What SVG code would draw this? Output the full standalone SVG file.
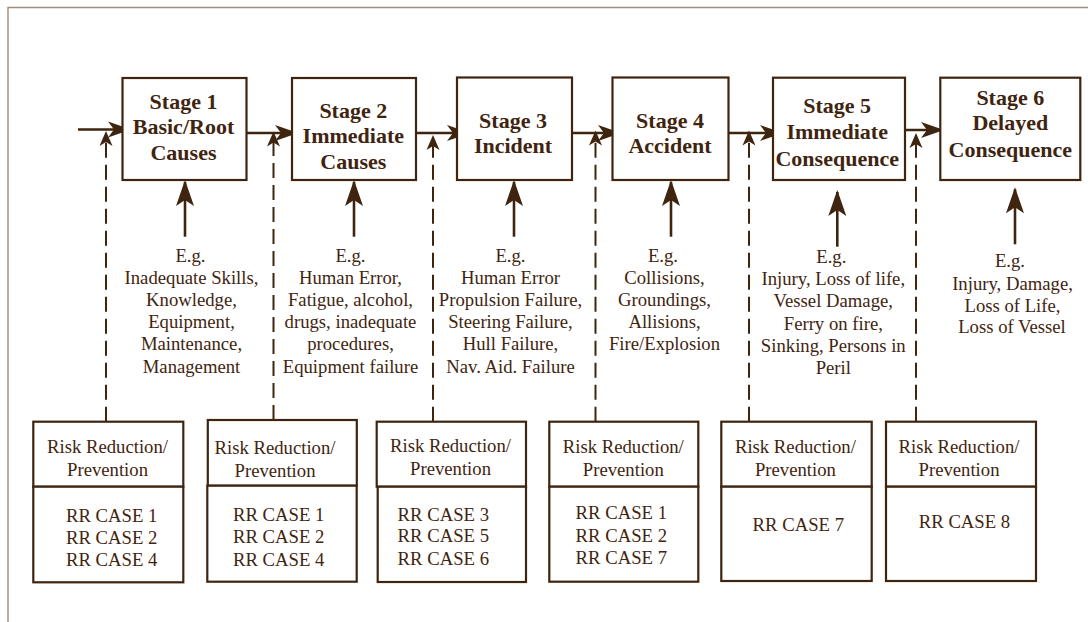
<svg xmlns="http://www.w3.org/2000/svg" width="1088" height="622" viewBox="0 0 1088 622">
<style>
.bx{fill:#fff;stroke:#3f250f;stroke-width:2.2}
.st{font-family:"Liberation Serif","Times New Roman",serif;font-weight:bold;font-size:22px;fill:#3f250f;text-anchor:middle}
.tx{font-family:"Liberation Serif","Times New Roman",serif;font-size:18.7px;fill:#3f250f;text-anchor:middle}
.ln{fill:none;stroke:#3f250f;stroke-width:2.6}
.dl{fill:none;stroke:#3f250f;stroke-width:2;stroke-dasharray:15 7}
.frame{fill:none;stroke:#9e8e7e;stroke-width:1.4}
</style>
<defs>
<marker id="ah" markerUnits="userSpaceOnUse" viewBox="-25 -10 30 20" refX="0" refY="0" markerWidth="30" markerHeight="20" orient="auto">
<path d="M2,0 L-21,-8 L-15,0 L-21,8 Z" fill="#3f250f" stroke="none"/>
</marker>
<marker id="au" markerUnits="userSpaceOnUse" viewBox="-28 -11 32 22" refX="0" refY="0" markerWidth="32" markerHeight="22" orient="auto">
<path d="M2,0 L-24,-9 L-18,0 L-24,9 Z" fill="#3f250f" stroke="none"/>
</marker>
<marker id="ad" markerUnits="userSpaceOnUse" viewBox="-18 -8 22 16" refX="0" refY="0" markerWidth="22" markerHeight="16" orient="auto">
<path d="M2,0 L-13,-6.5 L-9,0 L-13,6.5 Z" fill="#3f250f" stroke="none"/>
</marker>
</defs>
<rect width="1088" height="622" fill="#fff"/>
<path class="frame" d="M8,622 V7.5 H1088"/>

<g id="connectors">
<line class="ln" x1="78" y1="129.5" x2="129" y2="129.5" marker-end="url(#ah)"/>
<line class="ln" x1="246.5" y1="133" x2="296" y2="133" marker-end="url(#ah)"/>
<line class="ln" x1="416" y1="133" x2="468" y2="133" marker-end="url(#ah)"/>
<line class="ln" x1="572" y1="133" x2="619" y2="133" marker-end="url(#ah)"/>
<line class="ln" x1="728.5" y1="133" x2="781" y2="133" marker-end="url(#ah)"/>
<line class="ln" x1="900" y1="130" x2="942" y2="130" marker-end="url(#ah)"/>

<line class="ln" x1="185" y1="236.7" x2="185" y2="182" marker-end="url(#au)"/>
<line class="ln" x1="354" y1="236.7" x2="354" y2="182" marker-end="url(#au)"/>
<line class="ln" x1="514" y1="236.7" x2="514" y2="182" marker-end="url(#au)"/>
<line class="ln" x1="671" y1="236.7" x2="671" y2="182" marker-end="url(#au)"/>
<line class="ln" x1="837.3" y1="246.7" x2="837.3" y2="192" marker-end="url(#au)"/>
<line class="ln" x1="1015" y1="244.3" x2="1015" y2="189.3" marker-end="url(#au)"/>

<line class="dl" x1="106" y1="421.7" x2="106" y2="133" marker-end="url(#ad)"/>
<line class="dl" x1="273.5" y1="420" x2="273.5" y2="133.5" marker-end="url(#ad)"/>
<line class="dl" x1="433" y1="421.7" x2="433" y2="137" marker-end="url(#ad)"/>
<line class="dl" x1="595.5" y1="421.7" x2="595.5" y2="132.5" marker-end="url(#ad)"/>
<line class="dl" x1="749" y1="421.7" x2="749" y2="132.5" marker-end="url(#ad)"/>
<line class="dl" x1="916" y1="421.7" x2="916" y2="135" marker-end="url(#ad)"/>
</g>

<g id="stage1">
<rect class="bx" x="122.5" y="78" width="124" height="102"/>
<text class="st" x="183.5" y="108.5">Stage 1</text>
<text class="st" x="183.5" y="134">Basic/Root</text>
<text class="st" x="183.5" y="159.5">Causes</text>
</g>
<g id="stage2">
<rect class="bx" x="292" y="78" width="124" height="102"/>
<text class="st" x="353.3" y="117.5">Stage 2</text>
<text class="st" x="353.3" y="143">Immediate</text>
<text class="st" x="353.3" y="169">Causes</text>
</g>
<g id="stage3">
<rect class="bx" x="457" y="77.5" width="115" height="102.5"/>
<text class="st" x="513" y="127.7">Stage 3</text>
<text class="st" x="513" y="152.7">Incident</text>
</g>
<g id="stage4">
<rect class="bx" x="612.5" y="77.5" width="116" height="102.5"/>
<text class="st" x="670" y="127.7">Stage 4</text>
<text class="st" x="670" y="152.7">Accident</text>
</g>
<g id="stage5">
<rect class="bx" x="773" y="77.7" width="132" height="102.3"/>
<text class="st" x="837.2" y="113.3">Stage 5</text>
<text class="st" x="837.2" y="139.3">Immediate</text>
<text class="st" x="837.2" y="165.7">Consequence</text>
</g>
<g id="stage6">
<rect class="bx" x="940.3" y="77.7" width="140" height="102.3"/>
<text class="st" x="1010.3" y="105">Stage 6</text>
<text class="st" x="1010.3" y="130">Delayed</text>
<text class="st" x="1010.3" y="156.7">Consequence</text>
</g>

<g id="examples1">
<text class="tx" x="190.5" y="261.5">E.g.</text>
<text class="tx" x="191.5" y="283.7">Inadequate Skills,</text>
<text class="tx" x="191.5" y="305.9">Knowledge,</text>
<text class="tx" x="191.5" y="328.1">Equipment,</text>
<text class="tx" x="191.5" y="350.3">Maintenance,</text>
<text class="tx" x="191.5" y="372.5">Management</text>
</g>
<g id="examples2">
<text class="tx" x="350.5" y="261.5">E.g.</text>
<text class="tx" x="350.5" y="283.7">Human Error,</text>
<text class="tx" x="350.5" y="305.9">Fatigue, alcohol,</text>
<text class="tx" x="350.5" y="328.1">drugs, inadequate</text>
<text class="tx" x="350.5" y="350.3">procedures,</text>
<text class="tx" x="350.5" y="372.5">Equipment failure</text>
</g>
<g id="examples3">
<text class="tx" x="510.5" y="261.5">E.g.</text>
<text class="tx" x="510.5" y="283.7">Human Error</text>
<text class="tx" x="510.5" y="305.9">Propulsion Failure,</text>
<text class="tx" x="510.5" y="328.1">Steering Failure,</text>
<text class="tx" x="510.5" y="350.3">Hull Failure,</text>
<text class="tx" x="510.5" y="372.5">Nav. Aid. Failure</text>
</g>
<g id="examples4">
<text class="tx" x="663" y="261.5">E.g.</text>
<text class="tx" x="664.5" y="283.7">Collisions,</text>
<text class="tx" x="664.5" y="305.9">Groundings,</text>
<text class="tx" x="664.5" y="328.1">Allisions,</text>
<text class="tx" x="664.5" y="350.3">Fire/Explosion</text>
</g>
<g id="examples5">
<text class="tx" x="831.3" y="262.7">E.g.</text>
<text class="tx" x="833.3" y="285">Injury, Loss of life,</text>
<text class="tx" x="833.3" y="307.3">Vessel Damage,</text>
<text class="tx" x="833.3" y="329.6">Ferry on fire,</text>
<text class="tx" x="833.3" y="351.9">Sinking, Persons in</text>
<text class="tx" x="833.3" y="374.2">Peril</text>
</g>
<g id="examples6">
<text class="tx" x="1010" y="267.3">E.g.</text>
<text class="tx" x="1012.5" y="289.8">Injury, Damage,</text>
<text class="tx" x="1012.5" y="311.7">Loss of Life,</text>
<text class="tx" x="1012" y="333.3">Loss of Vessel</text>
</g>

<g id="rr1">
<rect class="bx" x="33.3" y="421.7" width="150" height="65"/>
<rect class="bx" x="33.3" y="486.7" width="150" height="95.6"/>
<text class="tx" x="107.5" y="452.7">Risk Reduction/</text>
<text class="tx" x="107.5" y="476">Prevention</text>
<text class="tx" x="111.7" y="521.7">RR CASE 1</text>
<text class="tx" x="111.7" y="543.8">RR CASE 2</text>
<text class="tx" x="111.7" y="565.7">RR CASE 4</text>
</g>
<g id="rr2">
<rect class="bx" x="207.8" y="420" width="149" height="65.7"/>
<rect class="bx" x="207.3" y="485.7" width="149.4" height="96"/>
<text class="tx" x="275" y="454">Risk Reduction/</text>
<text class="tx" x="275" y="477.3">Prevention</text>
<text class="tx" x="278.7" y="520.7">RR CASE 1</text>
<text class="tx" x="278.7" y="543">RR CASE 2</text>
<text class="tx" x="278.7" y="565.7">RR CASE 4</text>
</g>
<g id="rr3">
<rect class="bx" x="376.7" y="421.7" width="149.3" height="65"/>
<rect class="bx" x="377.7" y="486.7" width="148.3" height="95.3"/>
<text class="tx" x="450.5" y="451.7">Risk Reduction/</text>
<text class="tx" x="450.5" y="475">Prevention</text>
<text class="tx" x="443.3" y="520.7">RR CASE 3</text>
<text class="tx" x="443.3" y="541.7">RR CASE 5</text>
<text class="tx" x="443.3" y="565">RR CASE 6</text>
</g>
<g id="rr4">
<rect class="bx" x="549.3" y="421.7" width="149" height="65"/>
<rect class="bx" x="549.3" y="486.7" width="149" height="95"/>
<text class="tx" x="623.3" y="452.7">Risk Reduction/</text>
<text class="tx" x="623.3" y="476">Prevention</text>
<text class="tx" x="621.3" y="518.7">RR CASE 1</text>
<text class="tx" x="621.3" y="541.7">RR CASE 2</text>
<text class="tx" x="621.3" y="564">RR CASE 7</text>
</g>
<g id="rr5">
<rect class="bx" x="721.3" y="421.7" width="150.4" height="65"/>
<rect class="bx" x="721.3" y="486.7" width="150.4" height="94.3"/>
<text class="tx" x="795.4" y="452.7">Risk Reduction/</text>
<text class="tx" x="795.4" y="476">Prevention</text>
<text class="tx" x="798.3" y="530.7">RR CASE 7</text>
</g>
<g id="rr6">
<rect class="bx" x="886" y="421.7" width="150" height="65"/>
<rect class="bx" x="886" y="486.7" width="150" height="94.3"/>
<text class="tx" x="959" y="452.7">Risk Reduction/</text>
<text class="tx" x="959" y="476">Prevention</text>
<text class="tx" x="964.5" y="528.3">RR CASE 8</text>
</g>
</svg>
